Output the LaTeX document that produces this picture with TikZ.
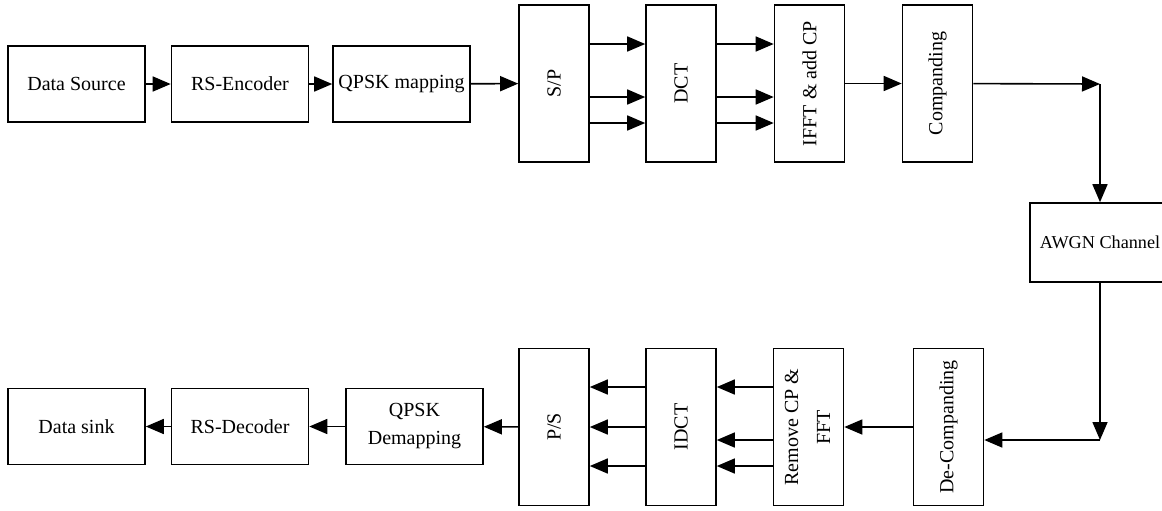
\documentclass[tikz,border=0pt]{standalone}
\usepackage{fontspec}
\setmainfont{Liberation Serif}
\usetikzlibrary{arrows.meta}

\begin{document}
\begin{tikzpicture}[x=0.5pt, y=-0.5pt,
        box/.style={rectangle, draw, line width=0.8pt, align=center, minimum width=68.5pt, minimum height=38pt, inner sep=1pt, font=\fontsize{10}{14}\selectfont},
        tallbox/.style={box, minimum width=35pt, minimum height=78.5pt},
        arrow/.style={-{Triangle[length=9pt, width=7.5pt]}, line width=0.8pt}
    ]
        \useasboundingbox (0,0) rectangle (1162,510);

        \node[box] (src) at (76.5,84) {Data Source};
        \node[box] (enc) at (240,84) {RS-Encoder};
        \node[box] (qpsk) at (401.5,84) {QPSK mapping};
        \node[tallbox] (sp) at (554,83.5) {\rotatebox{90}{S/P}};
        \node[tallbox] (dct) at (681,83.5) {\rotatebox{90}{DCT}};
        \node[tallbox] (ifft) at (809.5,83.5) {\rotatebox{90}{IFFT \& add CP}};
        \node[tallbox] (comp) at (937.5,83.5) {\rotatebox{90}{Companding}};

        \node[box, minimum width=70pt, minimum height=39.5pt, font=\fontsize{9.1}{13}\selectfont] (awgn) at (1100,242.5) {AWGN Channel};

        \node[tallbox] (decomp) at (948.5,427) {\rotatebox{90}{De-Companding}};
        \node[tallbox] (rem) at (808.5,427) {\rotatebox{90}{\begin{tabular}{@{}c@{}}Remove CP \&\\[2pt]FFT\end{tabular}}};
        \node[tallbox] (idct) at (681,427) {\rotatebox{90}{IDCT}};
        \node[tallbox] (ps) at (554,427) {\rotatebox{90}{P/S}};
        \node[box] (qdem) at (414.5,426.5) {QPSK\\Demapping};
        \node[box] (dec) at (240,426.5) {RS-Decoder};
        \node[box] (sink) at (76.5,426.5) {Data sink};

        \coordinate (c1) at (1100,84);
        \coordinate (c2) at (1100,440);

        \draw[arrow] (src) -- (enc);
        \draw[arrow] (enc) -- (qpsk);
        \draw[arrow] (qpsk) -- (sp);
        \foreach \s in {19.75,-6.75,-19.75} {
            \draw[arrow] ([yshift=\s pt]sp.east) -- ([yshift=\s pt]dct.west);
            \draw[arrow] ([yshift=\s pt]dct.east) -- ([yshift=\s pt]ifft.west);
        }
        \draw[arrow] (ifft) -- (comp);
        \draw[arrow] (comp) -- (c1);
        \draw[arrow] (c1) -- (awgn);
        \draw[arrow] (awgn) -- (c2);
        \draw[arrow] (c2) -- (decomp.east |- c2);
        \draw[arrow] (decomp) -- (rem);
        \foreach \s in {20,-6.5,-19.5} {
            \draw[arrow] ([yshift=\s pt]rem.west) -- ([yshift=\s pt]idct.east);
        }
        \foreach \s in {20,0,-19.5} {
            \draw[arrow] ([yshift=\s pt]idct.west) -- ([yshift=\s pt]ps.east);
        }
        \draw[arrow] (ps) -- (qdem);
        \draw[arrow] (qdem) -- (dec);
        \draw[arrow] (dec) -- (sink);
    \end{tikzpicture}
\end{document}
